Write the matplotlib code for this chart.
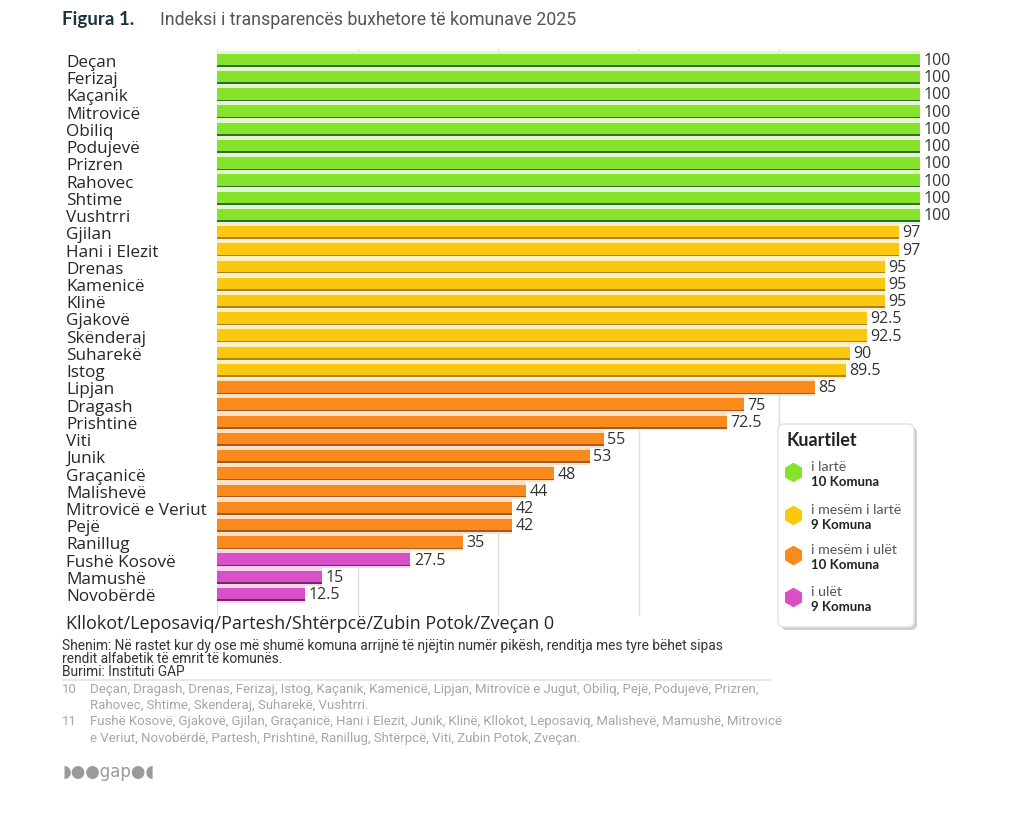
import matplotlib
matplotlib.use("Agg")
import matplotlib.pyplot as plt
import numpy as np
from matplotlib.patches import FancyBboxPatch
from matplotlib.lines import Line2D
from matplotlib.transforms import ScaledTranslation

# ---------------- data ----------------
municipalities = [
    "Deçan", "Ferizaj", "Kaçanik", "Mitrovicë", "Obiliq", "Podujevë", "Prizren",
    "Rahovec", "Shtime", "Vushtrri",
    "Gjilan", "Hani i Elezit", "Drenas", "Kamenicë", "Klinë", "Gjakovë",
    "Skënderaj", "Suharekë", "Istog",
    "Lipjan", "Dragash", "Prishtinë", "Viti", "Junik", "Graçanicë", "Malishevë",
    "Mitrovicë e Veriut", "Pejë", "Ranillug",
    "Fushë Kosovë", "Mamushë", "Novobërdë",
]
scores = [
    100, 100, 100, 100, 100, 100, 100, 100, 100, 100,
    97, 97, 95, 95, 95, 92.5, 92.5, 90, 89.5,
    85, 75, 72.5, 55, 53, 48, 44, 42, 42, 35,
    27.5, 15, 12.5,
]
quartile = [0] * 10 + [1] * 9 + [2] * 10 + [3] * 3
zero_group = "Kllokot/Leposaviq/Partesh/Shtërpcë/Zubin Potok/Zveçan"
zero_score = 0

quartile_names = ["i lartë", "i mesëm i lartë", "i mesëm i ulët", "i ulët"]
quartile_counts = ["10 Komuna", "9 Komuna", "10 Komuna", "9 Komuna"]

main_colors = ["#86e32c", "#fbc80f", "#f98a1b", "#d94fc8"]
pale_colors = ["#e2f7cc", "#fdf0c2", "#fde1c4", "#f6d2ef"]
dark_colors = ["#2f6a3a", "#a38230", "#9c5c2c", "#6e2b63"]

# ---------------- figure ----------------
W, H = 1024, 829
fig = plt.figure(figsize=(W / 100, H / 100), dpi=100)
fig.patch.set_facecolor("white")

def fx(x):
    return x / W

def fy(y):
    return 1 - y / H

label_font = ["Open Sans", "DejaVu Sans"]
lato = ["Lato", "DejaVu Sans"]
narrow_font = ["Liberation Sans Narrow", "Roboto", "DejaVu Sans"]

ax_left, ax_right, ax_top, ax_bottom = 217, 920, 50, 617
ax = fig.add_axes([fx(ax_left), fy(ax_bottom), (ax_right - ax_left) / W,
                   (ax_bottom - ax_top) / H])
row_px = 17.23
first_row_px = 61
n = len(municipalities)
pos = np.arange(n)
ax.set_xlim(0, 100)
ax.set_ylim((ax_bottom - first_row_px) / row_px, -(first_row_px - ax_top) / row_px)
for s in ax.spines.values():
    s.set_visible(False)

# grid
ax.set_xticks([0, 20, 40, 60, 80])
ax.tick_params(axis="x", bottom=False, labelbottom=False)
ax.grid(axis="x", color="#dddddd", linewidth=1.0)
ax.set_axisbelow(True)

cols_main = [main_colors[q] for q in quartile]
cols_pale = [pale_colors[q] for q in quartile]
cols_dark = [dark_colors[q] for q in quartile]

ax.barh(pos, scores, height=1.0, color=cols_pale, zorder=2)
ax.barh(pos + 0.02, scores, height=0.74, color=cols_dark, zorder=3)
ax.barh(pos - 0.03, scores, height=0.66, color=cols_main, zorder=4)

for p, v in zip(pos, scores):
    ax.annotate(f"{v:g}", xy=(v, p), xytext=(2.5, 0), textcoords="offset points",
                ha="left", va="center", fontsize=11.5, color="#333333",
                family=label_font, annotation_clip=False, zorder=5)

# y labels
ticks = list(pos) + [n]
labels = municipalities + [f"{zero_group} {zero_score:g}"]
ax.set_yticks(ticks)
ax.set_yticklabels(labels, fontsize=12.3, family=label_font, color="#262626")
ax.tick_params(axis="y", length=0, pad=(ax_left - 66) * 0.72)
for lab in ax.get_yticklabels():
    lab.set_ha("left")
last = ax.get_yticklabels()[-1]
last.set_fontsize(13)
last.set_transform(last.get_transform() + ScaledTranslation(0, -10 / 100, fig.dpi_scale_trans))

# ---------------- title ----------------
fig.text(fx(62), fy(20), "Figura 1.", fontsize=13.5, fontweight="bold",
         color="#1d3440", family=lato, va="center")
fig.text(fx(160), fy(20), "Indeksi i transparencës buxhetore të komunave 2025",
         fontsize=12.8, color="#555555", family=narrow_font, va="center")

# ---------------- legend ----------------
lax = fig.add_axes([fx(776), fy(634), 144 / W, 212 / H])
lax.set_xlim(776, 920)
lax.set_ylim(634, 422)
lax.axis("off")
shadow = FancyBboxPatch((781, 428), 136, 203, boxstyle="round,pad=0,rounding_size=6",
                        facecolor="#cfcfcf", edgecolor="none", zorder=1)
box = FancyBboxPatch((778, 425), 136, 203, boxstyle="round,pad=0,rounding_size=6",
                     facecolor="white", edgecolor="#e3e3e3", linewidth=1.0, zorder=2)
lax.add_patch(shadow)
lax.add_patch(box)
lax.text(786, 441, "Kuartilet", fontsize=13, fontweight="bold", color="#222222",
         family=lato, va="center", zorder=3)
marker_y = [473, 516, 556, 598]
for q in range(4):
    y = marker_y[q]
    lax.plot([793], [y], marker="h", markersize=13, color=main_colors[q],
             markeredgecolor=main_colors[q], zorder=3)
    lax.text(811, y - 6, quartile_names[q], fontsize=10.2, color="#555555",
             family=lato, va="center", zorder=3)
    lax.text(811, y + 9, quartile_counts[q], fontsize=9.5, fontweight="bold",
             color="#222222", family=lato, va="center", zorder=3)

# ---------------- footnotes ----------------
fig.text(fx(62), fy(646), "Shenim: Në rastet kur dy ose më shumë komuna arrijnë të njëjtin numër pikësh, renditja mes tyre bëhet sipas",
         fontsize=9.95, color="#333333", family=narrow_font, va="center")
fig.text(fx(62), fy(659), "rendit alfabetik të emrit të komunës.",
         fontsize=9.95, color="#333333", family=narrow_font, va="center")
fig.text(fx(62), fy(672), "Burimi: Instituti GAP",
         fontsize=9.95, color="#333333", family=narrow_font, va="center")
fig.add_artist(Line2D([fx(62), fx(770)], [fy(681), fy(681)], color="#e4e4e4", linewidth=1.2))

gray = "#a6a6a6"
fs = 9.5
fig.text(fx(62), fy(690), "10", fontsize=fs, color=gray, family=narrow_font, va="center")
fig.text(fx(90), fy(690), "Deçan, Dragash, Drenas, Ferizaj, Istog, Kaçanik, Kamenicë, Lipjan, Mitrovicë e Jugut, Obiliq, Pejë, Podujevë, Prizren,",
         fontsize=fs, color=gray, family=narrow_font, va="center")
fig.text(fx(90), fy(706), "Rahovec, Shtime, Skenderaj, Suharekë, Vushtrri.",
         fontsize=fs, color=gray, family=narrow_font, va="center")
fig.text(fx(62), fy(722), "11", fontsize=fs, color=gray, family=narrow_font, va="center")
fig.text(fx(90), fy(722), "Fushë Kosovë, Gjakovë, Gjilan, Graçanicë, Hani i Elezit, Junik, Klinë, Kllokot, Leposaviq, Malishevë, Mamushë, Mitrovicë",
         fontsize=fs, color=gray, family=narrow_font, va="center")
fig.text(fx(90), fy(739), "e Veriut, Novobërdë, Partesh, Prishtinë, Ranillug, Shtërpcë, Viti, Zubin Potok, Zveçan.",
         fontsize=fs, color=gray, family=narrow_font, va="center")

fig.text(fx(62), fy(772), "◗●●gap●◖", fontsize=12, color="#9a9a9a",
         family=["DejaVu Sans"], va="center")

fig.savefig("out.png", dpi=100, facecolor="white")
